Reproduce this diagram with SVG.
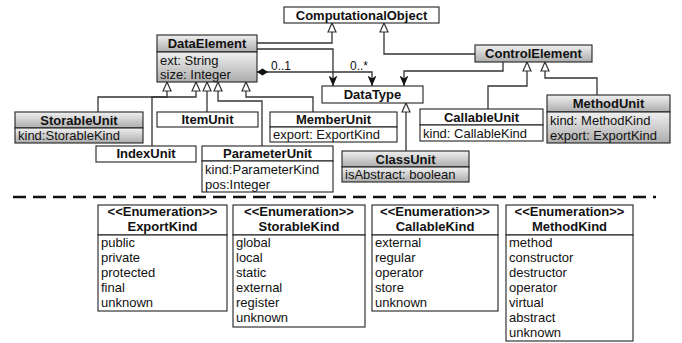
<svg xmlns="http://www.w3.org/2000/svg" width="682" height="343" viewBox="0 0 682 343">
<style>
text{font-family:"Liberation Sans",Arial,Helvetica,sans-serif;font-size:13px;fill:#111}
.t{font-weight:bold;text-anchor:middle}
.b{stroke:#222;stroke-width:1.1}
.w{fill:#fff}
.g{fill:url(#grad)}
.c{fill:none;stroke:#333;stroke-width:1.3}
.gen{marker-end:url(#gen)}
.nav{marker-end:url(#nav)}
.lbl{font-size:12px}
</style>
<defs>
<linearGradient id="grad" x1="0" y1="0" x2="0" y2="1">
<stop offset="0" stop-color="#f0f0f0"/>
<stop offset="1" stop-color="#acacac"/>
</linearGradient>
<marker id="gen" markerUnits="userSpaceOnUse" markerWidth="10" markerHeight="10" viewBox="0 0 10 9" refX="9.5" refY="4.5" orient="auto">
<path d="M0.5,0.5 L9.5,4.5 L0.5,8.5 Z" fill="#fff" stroke="#333" stroke-width="1.2"/>
</marker>
<marker id="nav" markerUnits="userSpaceOnUse" markerWidth="11" markerHeight="9" viewBox="0 0 11 9" refX="10.5" refY="4.5" orient="auto">
<path d="M0,0 L10.5,4.5 L0,9 L3,4.5 Z" fill="#111"/>
</marker>
<marker id="dia" markerUnits="userSpaceOnUse" markerWidth="12" markerHeight="8" viewBox="0 0 12 8" refX="0.5" refY="4" orient="auto">
<path d="M0.5,4 L6,0.5 L11.5,4 L6,7.5 Z" fill="#111"/>
</marker>
</defs>

<g id="connectors">
<polyline class="c gen" points="257,43 332,43 332,23"/>
<polyline class="c gen" points="475,54 384,54 384,23"/>
<polyline class="c nav" points="257,49 333,49 333,86"/>
<polyline class="c nav" points="257,72 372,72 372,86" marker-start="url(#dia)"/>
<text class="lbl" x="271" y="70">0..1</text>
<text class="lbl" x="350" y="70">0..*</text>
<polyline class="c nav" points="503,62 503,71 404,71 404,86"/>
<polyline class="c gen" points="488,109 488,86 527,86 527,62"/>
<polyline class="c gen" points="597,95 597,78 545,78 545,62"/>
<polyline class="c gen" points="406,151 406,103"/>
<polyline class="c gen" points="98,112 98,97 167,97 167,82"/>
<polyline class="c gen" points="152,146 152,97 196,97 196,82"/>
<polyline class="c gen" points="207,112 207,82"/>
<polyline class="c gen" points="262,146 262,101 218,101 218,82"/>
<polyline class="c gen" points="313,112 313,97 246,97 246,82"/>
</g>

<g id="ComputationalObject">
<rect class="b w" x="284" y="7" width="155" height="16"/>
<text class="t" x="361.5" y="20">ComputationalObject</text>
</g>

<g id="DataElement">
<rect class="b g" x="157" y="35" width="100" height="17"/>
<rect class="b g" x="157" y="52" width="100" height="30"/>
<text class="t" x="207" y="48">DataElement</text>
<text x="160" y="65">ext: String</text>
<text x="160" y="79">size: Integer</text>
</g>

<g id="ControlElement">
<rect class="b g" x="475" y="45" width="117" height="17"/>
<text class="t" x="533.5" y="58">ControlElement</text>
</g>

<g id="DataType">
<rect class="b w" x="322" y="86" width="101" height="17"/>
<text class="t" x="372.5" y="99">DataType</text>
</g>

<g id="CallableUnit">
<rect class="b w" x="420" y="109" width="123" height="16"/>
<rect class="b w" x="420" y="125" width="123" height="16"/>
<text class="t" x="481.5" y="122">CallableUnit</text>
<text x="423" y="138">kind: CallableKind</text>
</g>

<g id="MethodUnit">
<rect class="b g" x="547" y="95" width="123" height="17"/>
<rect class="b g" x="547" y="112" width="123" height="31"/>
<text class="t" x="608.5" y="108">MethodUnit</text>
<text x="550" y="125">kind: MethodKind</text>
<text x="550" y="140">export: ExportKind</text>
</g>

<g id="StorableUnit">
<rect class="b g" x="15" y="112" width="128" height="16"/>
<rect class="b g" x="15" y="128" width="128" height="15"/>
<text class="t" x="79" y="125">StorableUnit</text>
<text x="18" y="140">kind:StorableKind</text>
</g>

<g id="ItemUnit">
<rect class="b w" x="157" y="112" width="101" height="15"/>
<text class="t" x="207.5" y="124">ItemUnit</text>
</g>

<g id="MemberUnit">
<rect class="b w" x="270" y="112" width="127" height="15"/>
<rect class="b w" x="270" y="127" width="127" height="15"/>
<text class="t" x="333.5" y="124">MemberUnit</text>
<text x="273" y="139">export: ExportKind</text>
</g>

<g id="IndexUnit">
<rect class="b w" x="96" y="146" width="100" height="16"/>
<text class="t" x="146" y="158">IndexUnit</text>
</g>

<g id="ParameterUnit">
<rect class="b w" x="202" y="146" width="131" height="15"/>
<rect class="b w" x="202" y="161" width="131" height="31"/>
<text class="t" x="267.5" y="158">ParameterUnit</text>
<text x="205" y="174">kind:ParameterKind</text>
<text x="205" y="189">pos:Integer</text>
</g>

<g id="ClassUnit">
<rect class="b g" x="342" y="151" width="127" height="16"/>
<rect class="b g" x="342" y="167" width="127" height="15"/>
<text class="t" x="405.5" y="164">ClassUnit</text>
<text x="345" y="179">isAbstract: boolean</text>
</g>

<line x1="13" y1="197" x2="656" y2="197" stroke="#111" stroke-width="2.5" stroke-dasharray="13 7"/>

<g id="ExportKind">
<rect class="b w" x="98" y="205" width="129" height="30"/>
<rect class="b w" x="98" y="235" width="129" height="76"/>
<text class="t" x="162.5" y="216">&lt;&lt;Enumeration&gt;&gt;</text>
<text class="t" x="162.5" y="231">ExportKind</text>
<text x="101" y="247">public</text>
<text x="101" y="262">private</text>
<text x="101" y="277">protected</text>
<text x="101" y="292">final</text>
<text x="101" y="307">unknown</text>
</g>

<g id="StorableKind">
<rect class="b w" x="233" y="205" width="132" height="30"/>
<rect class="b w" x="233" y="235" width="132" height="92"/>
<text class="t" x="299" y="216">&lt;&lt;Enumeration&gt;&gt;</text>
<text class="t" x="299" y="231">StorableKind</text>
<text x="236" y="247">global</text>
<text x="236" y="262">local</text>
<text x="236" y="277">static</text>
<text x="236" y="292">external</text>
<text x="236" y="307">register</text>
<text x="236" y="322">unknown</text>
</g>

<g id="CallableKind">
<rect class="b w" x="372" y="205" width="126" height="30"/>
<rect class="b w" x="372" y="235" width="126" height="76"/>
<text class="t" x="435" y="216">&lt;&lt;Enumeration&gt;&gt;</text>
<text class="t" x="435" y="231">CallableKind</text>
<text x="375" y="247">external</text>
<text x="375" y="262">regular</text>
<text x="375" y="277">operator</text>
<text x="375" y="292">store</text>
<text x="375" y="307">unknown</text>
</g>

<g id="MethodKind">
<rect class="b w" x="506" y="205" width="127" height="30"/>
<rect class="b w" x="506" y="235" width="127" height="106"/>
<text class="t" x="569.5" y="216">&lt;&lt;Enumeration&gt;&gt;</text>
<text class="t" x="569.5" y="231">MethodKind</text>
<text x="509" y="247">method</text>
<text x="509" y="262">constructor</text>
<text x="509" y="277">destructor</text>
<text x="509" y="292">operator</text>
<text x="509" y="307">virtual</text>
<text x="509" y="322">abstract</text>
<text x="509" y="337">unknown</text>
</g>
</svg>
